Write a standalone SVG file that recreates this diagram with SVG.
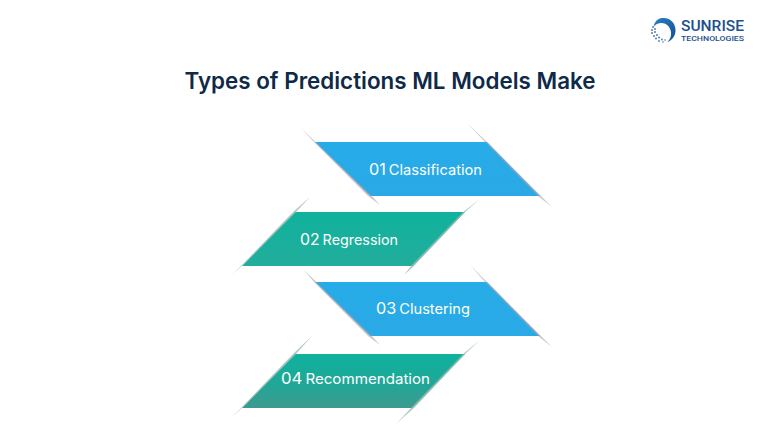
<svg xmlns="http://www.w3.org/2000/svg" width="780" height="446" viewBox="0 0 780 446">
<style>
.t{font-family:Inter,"Open Sans","Liberation Sans",sans-serif;fill:#fff}
.l{font-size:14.500px;font-weight:400}
.n{font-size:16px;font-weight:400}
.title{font-family:Inter,"Liberation Sans",sans-serif;font-size:22.5px;font-weight:600;fill:#0e2a47}
.s{fill:#a9a4b0;opacity:.6}
.g{fill:#9dbdb5;opacity:.8}
.d{fill:#4f7fa8}
</style>
<defs>
<linearGradient id="blue" x1="0" y1="0" x2="0" y2="1"><stop offset="0" stop-color="#26ace8"/><stop offset="1" stop-color="#2aa9e6"/></linearGradient>
<linearGradient id="teal" x1="0" y1="0" x2="0" y2="1"><stop offset="0" stop-color="#10b29d"/><stop offset="1" stop-color="#22ad9c"/></linearGradient>
<linearGradient id="teal2" x1="0" y1="0" x2="0" y2="1"><stop offset="0" stop-color="#0fb29e"/><stop offset=".55" stop-color="#1fa797"/><stop offset="1" stop-color="#3f9a90"/></linearGradient>
<linearGradient id="logo" x1="0" y1="0" x2="1" y2="1"><stop offset="0" stop-color="#2a7fc4"/><stop offset="1" stop-color="#12508f"/></linearGradient>
</defs>
<rect width="780" height="446" fill="#fff"/>
<g id="logo-mark">
<path d="M660 18.500c8-2 15 3 15.500 11 .3 6-3 10.500-8 12.500 3-3 4.500-7 3-12-1.500-4.500-5-7.500-10-7-3 .3-5.500 2-7 4 .8-4 3-7.500 6.500-8.500z" fill="url(#logo)"/>
<g class="d">
<circle cx="653" cy="27" r="1"/><circle cx="652" cy="30" r="1"/><circle cx="655" cy="29" r="1"/><circle cx="652" cy="33" r="1"/><circle cx="655" cy="32" r="1"/><circle cx="654" cy="36" r="1"/><circle cx="657" cy="35" r="1"/><circle cx="656" cy="38.500" r="1"/><circle cx="659" cy="37.500" r="1"/><circle cx="659" cy="41" r=".9"/><circle cx="662" cy="39.500" r=".9"/><circle cx="663" cy="42" r=".8"/><circle cx="665" cy="40" r=".8"/>
</g>
</g>
<text id="logo-name" x="681" y="30.500" font-family="Roboto,'Liberation Sans',sans-serif" font-size="14" font-weight="500" fill="#1c4f8c" textLength="63" lengthAdjust="spacingAndGlyphs">SUNRISE</text>
<text id="logo-sub" x="681" y="41" font-family="Roboto,'Liberation Sans',sans-serif" font-size="7.500" font-weight="500" fill="#1c4f8c" textLength="63" lengthAdjust="spacingAndGlyphs">TECHNOLOGIES</text>
<text id="title" class="title" x="184.500" y="89" textLength="411" lengthAdjust="spacingAndGlyphs">Types of Predictions ML Models Make</text>
<g id="node-1">
<polygon points="315,142 487,142 540,196 370,196" fill="url(#blue)"/>
<polygon class="s" points="301,128 372,196 380,205 368,196 314,142"/>
<polygon class="s" points="468,124 487,142 540,195 552,207 538,196 485,142"/>
<text class="t" x="369" y="175" textLength="113" lengthAdjust="spacingAndGlyphs"><tspan class="n">01</tspan><tspan class="l" dx="3">Classification</tspan></text>
</g>
<g id="node-2">
<polygon points="295,212 465,212 413,266 242,266" fill="url(#teal)"/>
<polygon class="g" points="310,197 296,212 243,265 232,275 241,266 293,212"/>
<polygon class="g" points="480,199 465,212 414,266 404,275 411,266 463,212"/>
<text class="t" x="300" y="245" textLength="98" lengthAdjust="spacingAndGlyphs"><tspan class="n">02</tspan><tspan class="l" dx="3">Regression</tspan></text>
</g>
<g id="node-3">
<polygon points="315,282 487,282 540,336 370,336" fill="url(#blue)"/>
<polygon class="s" points="303,269 372,336 380,345 368,336 314,282"/>
<polygon class="s" points="470,265 487,282 540,335 552,347 538,336 485,282"/>
<text class="t" x="376" y="314" textLength="94" lengthAdjust="spacingAndGlyphs"><tspan class="n">03</tspan><tspan class="l" dx="3">Clustering</tspan></text>
</g>
<g id="node-4">
<polygon points="295,354 465,354 413,408 242,408" fill="url(#teal2)"/>
<polygon class="g" points="312,336 296,354 243,407 231,418 241,408 293,354"/>
<polygon class="g" points="480,340 465,354 414,408 397,423 411,408 463,354"/>
<text class="t" x="281" y="384" textLength="149" lengthAdjust="spacingAndGlyphs"><tspan class="n">04</tspan><tspan class="l" dx="3">Recommendation</tspan></text>
</g>
</svg>
